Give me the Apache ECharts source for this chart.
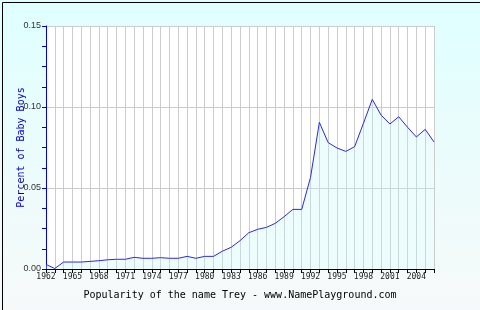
<!DOCTYPE html>
<html>
<head>
<meta charset="utf-8">
<script src="https://cdn.jsdelivr.net/npm/echarts@6/dist/echarts.min.js"></script>
<style>html,body{margin:0;padding:0;}#c{width:480px;height:310px;}</style>
</head>
<body>
<div id="c"></div>
<script>
const years = [];
for (let y = 1962; y <= 2006; y++) years.push(String(y));
const percent = [0.0028, 0.0003, 0.0043, 0.0043, 0.0043, 0.0047, 0.0051, 0.0057, 0.0060, 0.0060,
  0.0072, 0.0066, 0.0066, 0.0070, 0.0066, 0.0066, 0.0078, 0.0066, 0.0078, 0.0078,
  0.0110, 0.0134, 0.0175, 0.0224, 0.0245, 0.0257, 0.0282, 0.0323, 0.0368, 0.0368,
  0.0566, 0.0905, 0.0780, 0.0747, 0.0726, 0.0755, 0.0900, 0.1047, 0.0950, 0.0895,
  0.0940, 0.0875, 0.0815, 0.0862, 0.0784];
const titleText = 'Popularity of the name Trey - www.NamePlayground.com';
const yName = 'Percent of Baby Boys';

const chart = echarts.init(document.getElementById('c'), null, {renderer: 'canvas'});
chart.setOption({
  animation: false,
  backgroundColor: new echarts.graphic.LinearGradient(0, 0, 0, 1, [
    {offset: 0, color: '#dfffff'},
    {offset: 1, color: '#f7f9f9'}
  ]),
  graphic: [{
    type: 'rect', left: 0, top: 0, z: 100, silent: true,
    shape: {x: 0.5, y: 0.5, width: 479, height: 309},
    style: {fill: 'none', stroke: '#000', lineWidth: 1}
  }],
  title: {
    text: titleText, left: 'center', top: 285,
    textStyle: {fontFamily: 'DejaVu Sans Mono', fontSize: 10, fontWeight: 'normal', color: '#000'}
  },
  grid: {left: 46, right: 46, top: 26, bottom: 41, show: true, backgroundColor: '#fff', borderWidth: 0,
    containLabel: false, outerBoundsMode: 'none'},
  xAxis: {
    type: 'category', data: years, boundaryGap: false,
    axisLine: {lineStyle: {color: '#000', width: 1}},
    axisTick: {show: true, interval: 0, length: 4, lineStyle: {color: '#000'}},
    axisLabel: {interval: 2, margin: 4, fontFamily: 'DejaVu Sans Mono', fontSize: 8, color: '#222'},
    splitLine: {show: true, interval: 0, lineStyle: {color: '#cccccc', width: 1}}
  },
  yAxis: {
    type: 'value', min: 0, max: 0.15, interval: 0.05,
    name: yName, nameLocation: 'middle', nameGap: 20, nameRotate: 90, nameMoveOverlap: false,
    nameTextStyle: {fontFamily: 'DejaVu Sans Mono', fontSize: 10, color: '#0000cc'},
    axisLine: {show: true, lineStyle: {color: '#0000dd', width: 1}},
    axisTick: {show: true, length: 4, lineStyle: {color: '#0000dd'}},
    minorTick: {show: true, splitNumber: 4, length: 4, lineStyle: {color: '#0000dd'}},
    axisLabel: {formatter: v => v.toFixed(2), fontFamily: 'Liberation Sans', fontSize: 9, color: '#333', margin: 5},
    splitLine: {show: true, lineStyle: {color: '#cccccc', width: 1}}
  },
  series: [{
    type: 'line', data: percent, symbol: 'none',
    lineStyle: {color: '#2a2ae0', width: 1},
    areaStyle: {color: 'rgba(194,248,248,0.41)'}
  }]
});
</script>
</body>
</html>
